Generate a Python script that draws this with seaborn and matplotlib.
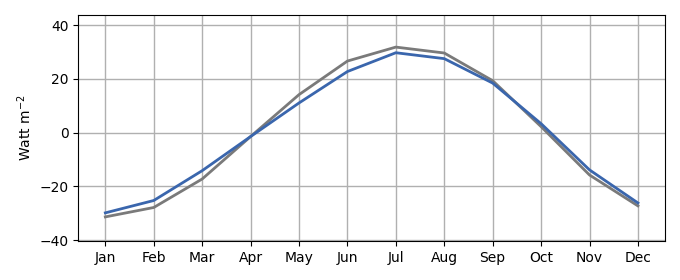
import matplotlib
matplotlib.use("Agg")
import matplotlib.pyplot as plt
import seaborn as sns
import pandas as pd

months = ["Jan", "Feb", "Mar", "Apr", "May", "Jun", "Jul", "Aug", "Sep", "Oct", "Nov", "Dec"]
gray_vals = [-31.4, -27.9, -17.3, -1.5, 14.1, 26.6, 31.8, 29.6, 19.3, 2.2, -15.8, -27.3]
blue_vals = [-29.9, -25.3, -14.2, -1.5, 11.0, 22.7, 29.7, 27.5, 18.4, 3.3, -13.9, -26.2]

df = pd.DataFrame({
    "month": months * 2,
    "x": list(range(len(months))) * 2,
    "value": gray_vals + blue_vals,
    "series": ["gray"] * len(months) + ["blue"] * len(months),
})

fig = plt.figure(figsize=(6.8, 2.8), dpi=100)
ax = fig.add_axes([0.115, 0.139, 0.863, 0.807])
sns.lineplot(data=df, x="x", y="value", hue="series",
             palette={"gray": "#7a7a7a", "blue": "#3a66ad"},
             linewidth=2, legend=False, ax=ax, zorder=3)
ax.set_xticks(range(len(months)))
ax.set_xticklabels(months)
ax.set_xlim(-0.56, 11.56)
ax.set_ylim(-40.4, 43.7)
ax.set_yticks([-40, -20, 0, 20, 40])
ax.grid(True, color="#b0b0b0", linewidth=1)
ax.set_axisbelow(True)
ax.set_xlabel("")
ax.set_ylabel("Watt m$^{-2}$")
fig.savefig("out.png", dpi=100)
